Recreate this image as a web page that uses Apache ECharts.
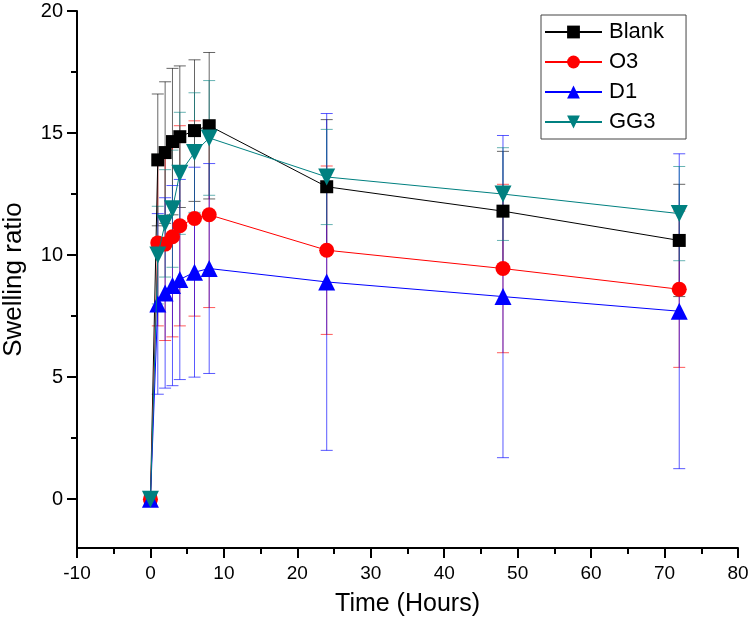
<!DOCTYPE html>
<html>
<head>
<meta charset="utf-8">
<script src="https://cdn.jsdelivr.net/npm/echarts@6/dist/echarts.min.js"></script>
<style>html,body{margin:0;padding:0;background:#fff;}#c{width:750px;height:628px;}</style>
</head>
<body>
<div id="c"></div>
<script>
const times = [0, 1, 2, 3, 4, 6, 8, 24, 48, 72];
const blank = [0, 13.9, 14.2, 14.65, 14.85, 15.1, 15.3, 12.8, 11.8, 10.6];
const blankSd = [0, 2.7, 2.9, 3.0, 2.9, 2.9, 3.0, 2.75, 2.45, 2.3];
const o3 = [0, 10.5, 10.45, 10.75, 11.2, 11.5, 11.65, 10.2, 9.45, 8.6];
const o3Sd = [0, 3.4, 3.95, 4.1, 4.1, 4.0, 3.8, 3.45, 3.45, 3.2];
const d1 = [0, 8.0, 8.45, 8.75, 9.0, 9.3, 9.45, 8.9, 8.3, 7.7];
const d1Sd = [0, 3.7, 3.9, 4.1, 4.1, 4.3, 4.3, 6.9, 6.6, 6.45];
const gg3 = [0, 10.0, 11.3, 11.9, 13.35, 14.2, 14.8, 13.2, 12.5, 11.7];
const gg3Sd = [0, 2.0, 2.2, 2.4, 2.5, 2.45, 2.35, 1.95, 1.9, 1.93];
const yTicks = [0, 5, 10, 15, 20];
const yMinorTicks = [2.5, 7.5, 12.5, 17.5];

const FONT = "'Liberation Sans', Arial, sans-serif";
const seriesDefs = [
  {name: 'Blank', vals: blank, sd: blankSd, color: '#000000', err: 'rgba(0,0,0,0.6)', symbol: 'rect', size: 13, rot: 0},
  {name: 'O3', vals: o3, sd: o3Sd, color: '#ff0000', err: 'rgba(255,0,0,0.65)', symbol: 'circle', size: 15, rot: 0},
  {name: 'D1', vals: d1, sd: d1Sd, color: '#0000ff', err: 'rgba(0,0,255,0.65)', symbol: 'triangle', size: 17, rot: 0},
  {name: 'GG3', vals: gg3, sd: gg3Sd, color: '#008080', err: 'rgba(0,128,128,0.6)', symbol: 'triangle', size: 17, rot: 180}
];

function errRender(color) {
  return function (params, api) {
    const x = api.value(0), lo = api.value(1), hi = api.value(2);
    if (hi === lo) return null;
    const a = api.coord([x, lo]), b = api.coord([x, hi]);
    const hw = 6;
    const st = {stroke: color, lineWidth: 1};
    return {type: 'group', children: [
      {type: 'line', shape: {x1: a[0], y1: a[1], x2: b[0], y2: b[1]}, style: st},
      {type: 'line', shape: {x1: a[0] - hw, y1: a[1], x2: a[0] + hw, y2: a[1]}, style: st},
      {type: 'line', shape: {x1: b[0] - hw, y1: b[1], x2: b[0] + hw, y2: b[1]}, style: st}
    ]};
  };
}

const series = [];
seriesDefs.forEach((s, i) => {
  series.push({
    type: 'custom',
    name: s.name + ' err',
    renderItem: errRender(s.err),
    data: times.map((t, k) => [t, s.vals[k] - s.sd[k], s.vals[k] + s.sd[k]]),
    encode: {x: 0, y: [1, 2]},
    clip: false,
    z: 2 + i,
    silent: true
  });
});
seriesDefs.forEach((s, i) => {
  series.push({
    type: 'line',
    name: s.name,
    data: times.map((t, k) => [t, s.vals[k]]),
    symbol: s.symbol,
    symbolSize: s.size,
    symbolRotate: s.rot,
    showAllSymbol: true,
    lineStyle: {color: s.color, width: 1},
    itemStyle: {color: s.color, opacity: 1},
    z: 10 + i,
    animation: false
  });
});
series.push({type: 'line', yAxisIndex: 1, data: [], silent: true});

const chart = echarts.init(document.getElementById('c'), null, {renderer: 'canvas'});
chart.setOption({
  animation: false,
  backgroundColor: '#ffffff',
  textStyle: {fontFamily: FONT},
  grid: {left: 77, right: 12, top: 11, bottom: 80, containLabel: false, outerBoundsMode: 'none'},
  legend: {
    data: seriesDefs.map(s => s.name),
    orient: 'vertical',
    left: 541, top: 15,
    padding: [6, 22, 6, 3],
    itemGap: 8,
    itemWidth: 57,
    itemHeight: 16,
    borderColor: '#444',
    borderWidth: 1,
    textStyle: {fontSize: 22, color: '#000', fontFamily: FONT, padding: [0, 0, 0, 2]}
  },
  xAxis: {
    type: 'value', min: -10, max: 80, interval: 10,
    name: 'Time (Hours)', nameLocation: 'middle', nameGap: 44,
    nameTextStyle: {fontSize: 25, color: '#000', fontFamily: FONT},
    axisLine: {onZero: false, lineStyle: {color: '#000', width: 2}},
    axisTick: {show: true, inside: false, length: 10, lineStyle: {color: '#000', width: 2}},
    minorTick: {show: true, splitNumber: 2, length: 6, lineStyle: {color: '#000', width: 2}},
    axisLabel: {fontSize: 19, color: '#000', margin: 16, fontFamily: FONT},
    splitLine: {show: false},
    minorSplitLine: {show: false}
  },
  yAxis: [{
    type: 'value', min: -2, max: 20,
    name: 'Swelling ratio', nameLocation: 'middle', nameGap: 50,
    nameTextStyle: {fontSize: 26, color: '#000', fontFamily: FONT},
    axisLine: {onZero: false, lineStyle: {color: '#000', width: 2}},
    axisTick: {show: true, inside: false, length: 10, customValues: yTicks, lineStyle: {color: '#000', width: 2}},
    axisLabel: {fontSize: 20, color: '#000', margin: 14, customValues: yTicks, fontFamily: FONT},
    splitLine: {show: false}
  }, {
    type: 'value', min: -2, max: 20, position: 'left', offset: 0,
    axisLine: {show: false, onZero: false},
    axisTick: {show: true, inside: false, length: 6, customValues: yMinorTicks, lineStyle: {color: '#000', width: 2}},
    axisLabel: {show: false},
    splitLine: {show: false}
  }],
  series: series
});
</script>
</body>
</html>
